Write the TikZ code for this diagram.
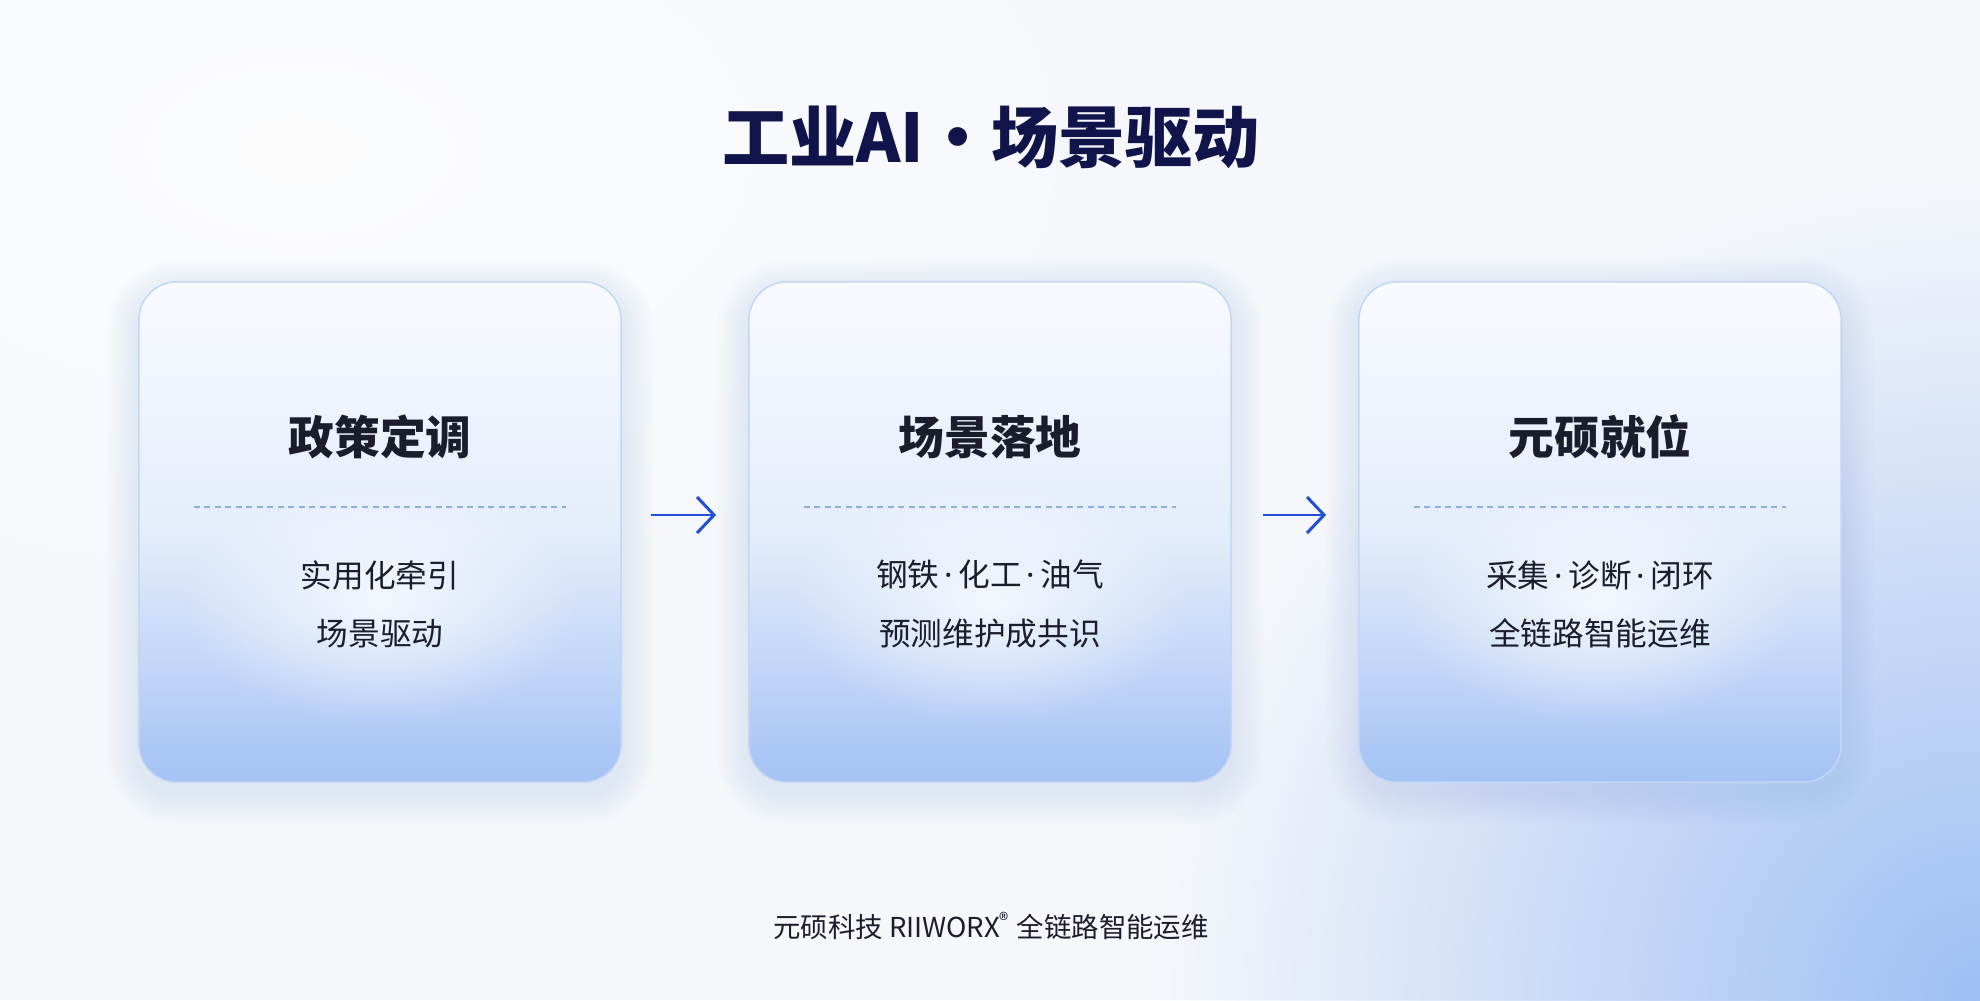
\documentclass[tikz,border=0pt]{standalone}
\usepackage{fontspec}
\setmainfont{Noto Sans CJK SC}
\newfontfamily\latin{Noto Sans}
\usetikzlibrary{arrows.meta,fadings}

\definecolor{latar}{HTML}{F5F7FB}
\definecolor{sudut}{HTML}{9EBFF4}
\definecolor{garis}{HTML}{C3D6F3}
\definecolor{kartuatas}{HTML}{F8FAFE}
\definecolor{kartutengah}{HTML}{E4EDFB}
\definecolor{kartubawah}{HTML}{A4C2F5}
\definecolor{judulwarna}{HTML}{10144A}
\definecolor{teks}{HTML}{1B1D2C}
\definecolor{panah}{HTML}{1F4FD6}
\definecolor{putus}{HTML}{8CB1E0}
\definecolor{bayang}{HTML}{7F9CC8}

\tikzfading[name=pendar, inner color=transparent!25, outer color=transparent!100]
\tikzfading[name=pudar, inner color=transparent!0, outer color=transparent!100]

% titik tengah yang sempit
\newcommand{\titik}{{\latin\,·\,}}

\begin{document}
\begin{tikzpicture}[x=0.01cm, y=-0.01cm,
    kartu/.style={draw=garis, line width=0.15mm, rounded corners=3.8mm,
      minimum width=4.82cm, minimum height=5cm, inner sep=0pt,
      top color=kartuatas, bottom color=kartubawah, middle color=kartutengah},
    judulkartu/.style={font=\fontsize{13}{15}\selectfont\bfseries, text=teks},
    isikartu/.style={font=\fontsize{9}{16.5}\selectfont, text=teks, align=center},
    alir/.style={draw=panah, line width=0.85pt, -{Straight Barb[length=1.7mm, width=3.6mm]}}]

  % latar belakang
  \useasboundingbox (0,0) rectangle (1980,1000);
  \begin{scope}
    \clip (0,0) rectangle (1980,1000);
    \fill[latar] (0,0) rectangle (1980,1000);
    \fill[sudut, path fading=pudar] (1980,1000) circle (820);
    \fill[white, path fading=pendar] (300,150) ellipse (900 and 500);
  \end{scope}

  % judul
  \node[font=\fontsize{19.1}{22}\selectfont\bfseries, text=judulwarna] (judul) at (991,137) {工业AI·场景驱动};

  % tiga kartu
  \foreach \i/\x/\kepala/\isi in {1/380/政策定调/{实用化牵引\\场景驱动},
      2/990/场景落地/{钢铁\titik 化工\titik 油气\\预测维护成共识},
      3/1600/元硕就位/{采集\titik 诊断\titik 闭环\\全链路智能运维}} {
    % bayangan lembut
    \foreach \s in {1,...,8} {
      \fill[bayang, fill opacity=0.018, rounded corners={3.8mm+\s*0.4mm}]
        ({\x-241-4*\s}, {292-4*\s}) rectangle ({\x+241+4*\s}, {792+4*\s});
    }
    \node[kartu] (k\i) at (\x,532) {};
    \fill[white, path fading=pendar] ([yshift=-0.72cm]k\i.center) ellipse (200 and 120);
    \node[judulkartu] (j\i) at ([yshift=0.95cm]k\i.center) {\kepala};
    \coordinate (pk\i) at ([xshift=-1.86cm, yshift=0.25cm]k\i.center);
    \coordinate (pn\i) at ([xshift=1.86cm, yshift=0.25cm]k\i.center);
    \draw[putus, line width=0.4pt, dash pattern=on 0.6mm off 0.45mm] (pk\i) -- (pn\i);
    \node[isikartu] (t\i) at ([yshift=-0.72cm]k\i.center) {\isi};
  }

  % panah antar kartu
  \draw[alir] ([xshift=0.29cm, yshift=0.17cm]k1.east) -- ([xshift=-0.32cm, yshift=0.17cm]k2.west);
  \draw[alir] ([xshift=0.31cm, yshift=0.17cm]k2.east) -- ([xshift=-0.32cm, yshift=0.17cm]k3.west);

  % catatan kaki
  \node[font=\fontsize{7.8}{9}\selectfont, text=teks] (kaki) at (991,926)
    {元硕科技 RIIWORX\textsuperscript{®} 全链路智能运维};
\end{tikzpicture}
\end{document}
